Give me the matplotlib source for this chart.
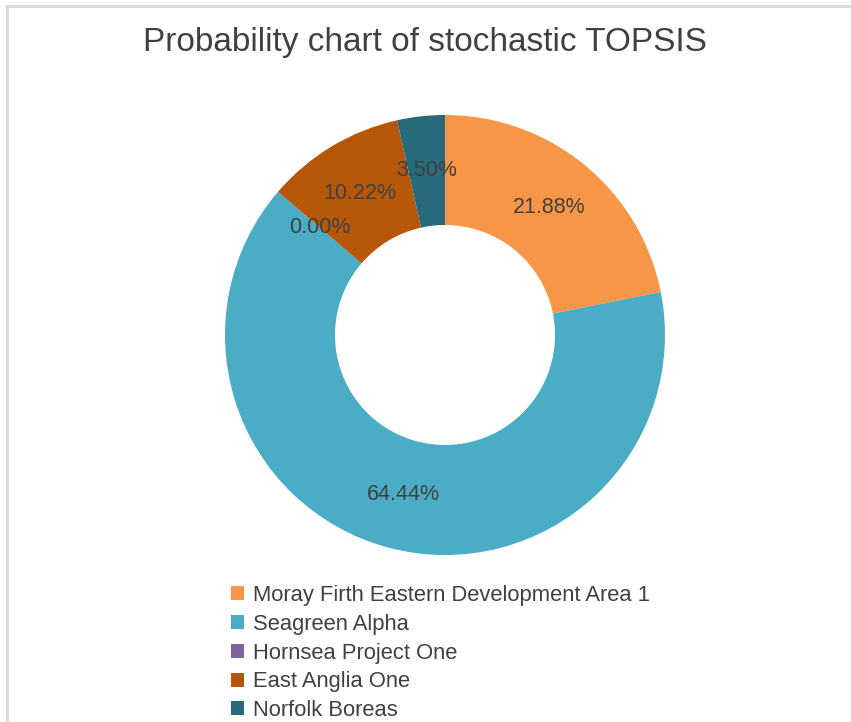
import matplotlib.pyplot as plt
from matplotlib.lines import Line2D

labels = ['Moray Firth Eastern Development Area 1', 'Seagreen Alpha',
          'Hornsea Project One', 'East Anglia One', 'Norfolk Boreas']
probs = [21.88, 64.44, 0.00, 10.22, 3.50]
colors = ['#F79646', '#4BACC6', '#8064A2', '#B65708', '#276A7B']

plt.rcParams['font.family'] = ['Liberation Sans', 'DejaVu Sans']
txt = '#404040'
total = sum(probs)

fig = plt.figure(figsize=(8.51, 7.22), dpi=100)
W, H = 851, 722

# chart frame (only top and left edges visible in the crop)
fig.add_artist(Line2D([6 / W, 1], [1 - 6 / H, 1 - 6 / H], color='#D9D9D9', lw=2))
fig.add_artist(Line2D([7 / W, 7 / W], [0, 1 - 6 / H], color='#D9D9D9', lw=2))

ax = fig.add_axes([225 / W, 167 / H, 440 / W, 440 / H])
wedges, texts, autotexts = ax.pie(probs, colors=colors, startangle=90, counterclock=False,
                                  autopct=lambda p: '%.2f%%' % (p * total / 100),
                                  pctdistance=0.75,
                                  wedgeprops=dict(width=0.5, linewidth=0),
                                  textprops=dict(color=txt, fontsize=15.5))
ax.set_xlim(-1, 1)
ax.set_ylim(-1, 1)
ax.set_aspect('equal')

fig.text(425 / W, 1 - 42 / H, 'Probability chart of stochastic TOPSIS',
         ha='center', va='center', fontsize=24, color=txt)

fig.legend(wedges, labels, loc='upper left', bbox_to_anchor=(231 / W, 1 - 585 / H),
           frameon=False, fontsize=15.8, labelcolor=txt, handlelength=0.6, handleheight=0.6,
           handletextpad=0.4, labelspacing=0.355, borderpad=0, borderaxespad=0)

fig.savefig('out.png', dpi=100)
